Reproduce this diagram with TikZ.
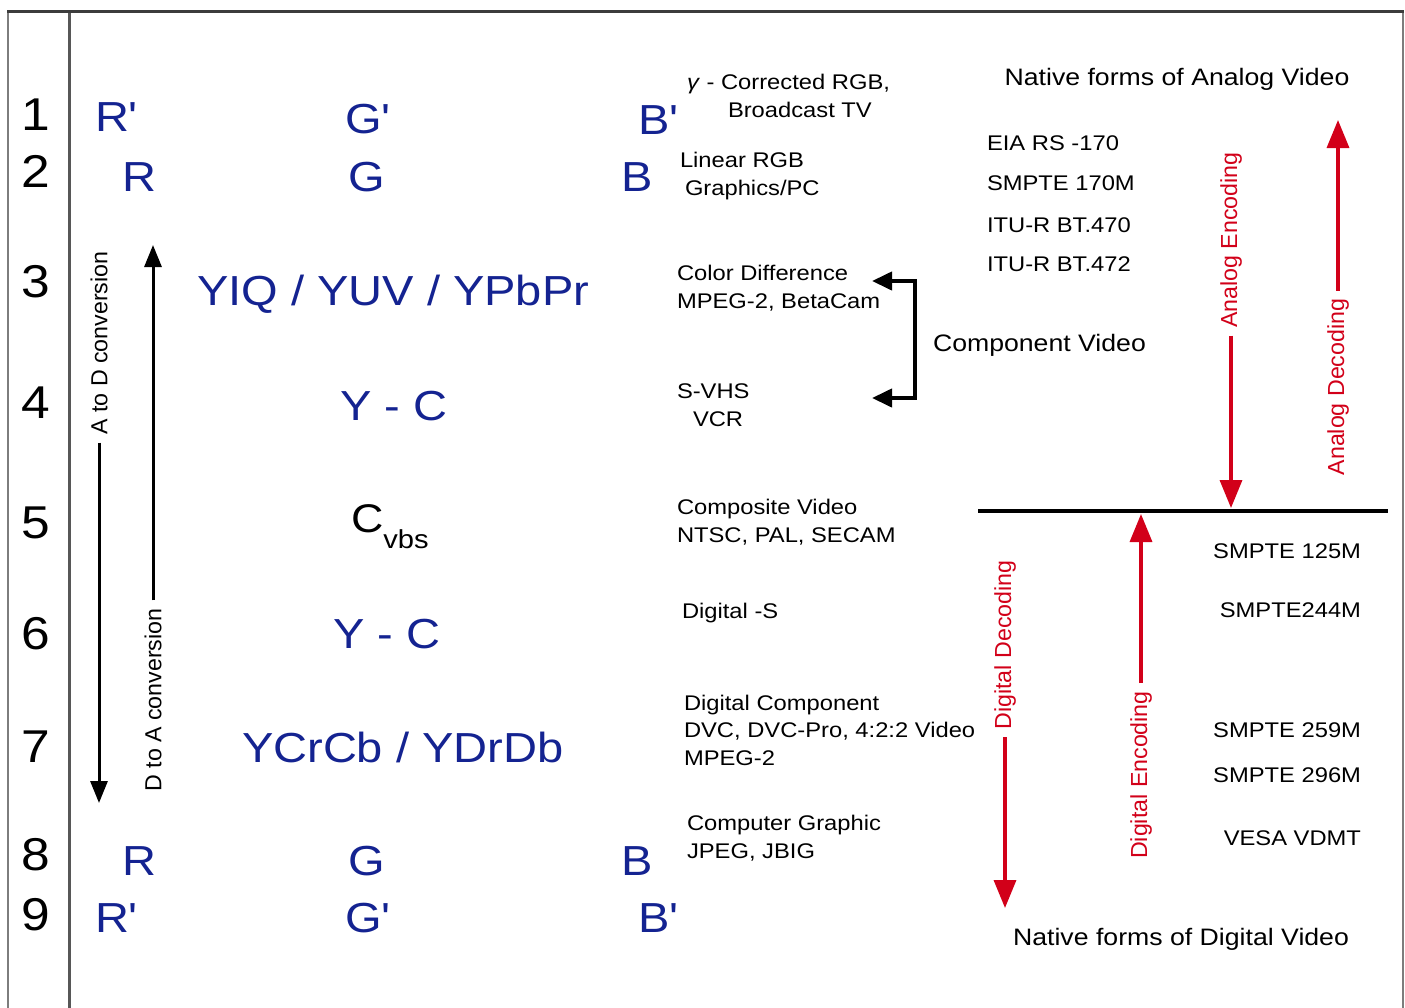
\documentclass[tikz,border=0pt]{standalone}
\usepackage{fontspec}
\setmainfont{Liberation Sans}[FakeStretch=1.12]
\newfontfamily\rotfont{Liberation Sans}
\newfontfamily\sigfont{Liberation Sans}[FakeStretch=1.12]
\usetikzlibrary{arrows.meta}
\definecolor{sigblue}{RGB}{20,35,145}
\definecolor{codered}{RGB}{210,0,25}
\definecolor{framedark}{RGB}{60,60,60}
\definecolor{framegray}{RGB}{125,125,125}
\begin{document}
\begin{tikzpicture}[x=0.5pt,y=-0.5pt,
  every node/.style={inner sep=0pt, outer sep=0pt},
  rownum/.style={font=\fontsize{23}{26}\selectfont, anchor=base},
  sig/.style={font=\sigfont\fontsize{21}{24}\selectfont, text=sigblue, anchor=base west},
  desc/.style={font=\fontsize{10.6}{13.6}\selectfont, anchor=base west, align=left},
  std/.style={font=\fontsize{10.6}{13}\selectfont},
  title/.style={font=\fontsize{11.9}{14}\selectfont},
  rotlab/.style={font=\rotfont\fontsize{11.6}{13}\selectfont, rotate=90, outer sep=4pt},
  redlab/.style={rotlab, text=codered},
  blackarrow/.style={line width=1.5pt, -{Triangle[length=11pt,width=8.5pt]}},
  redarrow/.style={color=codered, line width=1.7pt, -{Triangle[length=14pt,width=11pt]}},
  brk/.style={line width=2pt, {Triangle[length=10pt,width=9pt]}-{Triangle[length=10pt,width=9pt]}}
]
\fill[white] (0,0) rectangle (1405,1008);
\useasboundingbox (0,0) rectangle (1405,1008);

% frame
\draw[framegray, line width=1.2pt] (8,11) -- (8,1010);
\draw[framegray, line width=1.2pt] (1403,11) -- (1403,1010);
\draw[framegray!70!black, line width=1.5pt] (69,11) -- (69,1010);
\draw[framedark, line width=1.5pt] (7,11) -- (1404,11);

% row numbers
\node[rownum] (n1) at (36,130) {1};
\node[rownum] (n2) at (36,187) {2};
\node[rownum] (n3) at (36,297) {3};
\node[rownum] (n4) at (36,418) {4};
\node[rownum] (n5) at (36,538) {5};
\node[rownum] (n6) at (36,649) {6};
\node[rownum] (n7) at (36,762) {7};
\node[rownum] (n8) at (36,870) {8};
\node[rownum] (n9) at (36,930) {9};

% signal names
\node[sig] (r1) at (95,131) {R'};
\node[sig] (g1) at (345,133) {G'};
\node[sig] (b1) at (638,134) {B'};
\node[sig] (r2) at (122,191) {R};
\node[sig] (g2) at (348,191) {G};
\node[sig] (b2) at (621,191) {B};
\node[sig] (yiq) at (197,305) {YIQ / YUV / YPbPr};
\node[sig] (yc1) at (340,420) {Y - C};
\node[anchor=base west, font=\fontsize{20}{23}\selectfont] (cvbs) at (351,532) {C\raisebox{-8pt}{\fontsize{13}{15}\selectfont vbs}};
\node[sig] (yc2) at (333,648) {Y - C};
\node[sig] (ycrcb) at (242,762) {YCrCb / YDrDb};
\node[sig] (r8) at (122,875) {R};
\node[sig] (g8) at (348,875) {G};
\node[sig] (b8) at (621,875) {B};
\node[sig] (r9) at (95,932) {R'};
\node[sig] (g9) at (345,932) {G'};
\node[sig] (b9) at (638,932) {B'};

% descriptions (anchor = baseline of last line)
\node[desc] (dgam) at (687,117) {\textit{γ} - Corrected RGB,\\\hspace*{20.5pt}Broadcast TV};
\node[desc] (dlin) at (680,195) {Linear RGB\\\hspace*{2.5pt}Graphics/PC};
\node[desc] (dcol) at (677,308) {Color Difference\\MPEG-2, BetaCam};
\node[desc] (dsvhs) at (677,426) {S-VHS\\\hspace*{8pt}VCR};
\node[desc] (dcomp) at (677,542) {Composite Video\\NTSC, PAL, SECAM};
\node[desc] (dds) at (682,618) {Digital -S};
\node[desc] (ddc) at (684,765) {Digital Component\\DVC, DVC-Pro, 4:2:2 Video\\MPEG-2};
\node[desc] (dcg) at (687,858) {Computer Graphic\\JPEG, JBIG};

% component video bracket
\node[title, anchor=base west] (compv) at (933,351) {Component Video};
\coordinate (cvtop) at (872,281);
\coordinate (cvbot) at (872,398);
\draw[brk] (cvtop) -- ++(43,0) |- (cvbot);

% analog side
\node[title, anchor=base] (natan) at (1177,85) {Native forms of Analog Video};
\node[std, anchor=base west] (s1) at (987,150) {EIA RS -170};
\node[std, anchor=base west] (s2) at (987,190) {SMPTE 170M};
\node[std, anchor=base west] (s3) at (987,232) {ITU-R BT.470};
\node[std, anchor=base west] (s4) at (987,271) {ITU-R BT.472};

% digital side
\node[std, anchor=base east] (s5) at (1361,558) {SMPTE 125M};
\node[std, anchor=base east] (s6) at (1361,617) {SMPTE244M};
\node[std, anchor=base east] (s7) at (1361,737) {SMPTE 259M};
\node[std, anchor=base east] (s8) at (1361,782) {SMPTE 296M};
\node[std, anchor=base east] (s9) at (1361,845) {VESA VDMT};
\node[title, anchor=base] (natdig) at (1181,945) {Native forms of Digital Video};

% divider line
\draw[line width=2.3pt] (978,511) -- (1388,511);

% red arrows
\node[redlab] (anenc) at (1231,240) {Analog Encoding};
\node[redlab] (andec) at (1338,387) {Analog Decoding};
\node[redlab] (digdec) at (1005,645) {Digital Decoding};
\node[redlab] (digenc) at (1141,775) {Digital Encoding};
\coordinate (aetip) at (1231,508);
\coordinate (adtip) at (1338,120);
\coordinate (detip) at (1141,514);
\coordinate (ddtip) at (1005,908);
\draw[redarrow] (anenc.west) -- (anenc.west |- aetip);
\draw[redarrow] (andec.east) -- (andec.east |- adtip);
\draw[redarrow] (digenc.east) -- (digenc.east |- detip);
\draw[redarrow] (digdec.west) -- (digdec.west |- ddtip);

% conversion arrows
\node[rotlab] (atod) at (99,343) {A to D conversion};
\node[rotlab] (dtoa) at (153,700) {D to A conversion};
\coordinate (atdtip) at (99,803);
\coordinate (datip) at (153,245);
\draw[blackarrow] (atod.west) -- (atod.west |- atdtip);
\draw[blackarrow] (dtoa.east) -- (dtoa.east |- datip);
\end{tikzpicture}
\end{document}
